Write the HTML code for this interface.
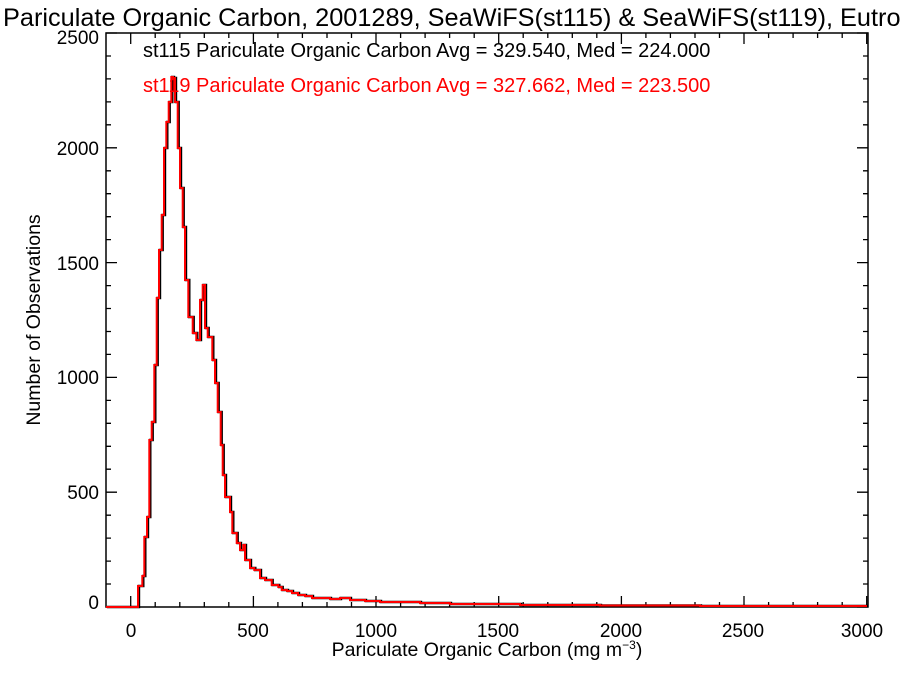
<!DOCTYPE html>
<html><head><style>body{margin:0;background:#fff}svg{display:block}text{font-family:"Liberation Sans",sans-serif}</style></head>
<body>
<svg width="900" height="675" viewBox="0 0 900 675" xmlns="http://www.w3.org/2000/svg">
<rect width="900" height="675" fill="#fff"/>
<text x="3" y="26" font-size="25.3" fill="#000">Pariculate Organic Carbon, 2001289, SeaWiFS(st115) &amp; SeaWiFS(st119), Eutrophic</text>
<g fill="none" stroke="#000" stroke-width="1.3">
<path d="M130.7 607v-11M253.4 607v-11M376 607v-11M498.7 607v-11M621.4 607v-11M744 607v-11M866.7 607v-11
M130.7 33v11M253.4 33v11M376 33v11M498.7 33v11M621.4 33v11M744 33v11M866.7 33v11
M155.2 607v-5M179.8 607v-5M204.3 607v-5M228.8 607v-5M277.9 607v-5M302.4 607v-5M327 607v-5M351.5 607v-5M400.6 607v-5M425.1 607v-5M449.6 607v-5M474.2 607v-5M523.2 607v-5M547.8 607v-5M572.3 607v-5M596.8 607v-5M645.9 607v-5M670.4 607v-5M695 607v-5M719.5 607v-5M768.6 607v-5M793.1 607v-5M817.6 607v-5M842.2 607v-5
M155.2 33v5M179.8 33v5M204.3 33v5M228.8 33v5M277.9 33v5M302.4 33v5M327 33v5M351.5 33v5M400.6 33v5M425.1 33v5M449.6 33v5M474.2 33v5M523.2 33v5M547.8 33v5M572.3 33v5M596.8 33v5M645.9 33v5M670.4 33v5M695 33v5M719.5 33v5M768.6 33v5M793.1 33v5M817.6 33v5M842.2 33v5
M106 607h11M106 492.2h11M106 377.4h11M106 262.6h11M106 147.8h11M106 33h11
M868 607h-11M868 492.2h-11M868 377.4h-11M868 262.6h-11M868 147.8h-11M868 33h-11
M106 584h5M106 561.1h5M106 538.1h5M106 515.2h5M106 469.2h5M106 446.3h5M106 423.3h5M106 400.4h5M106 354.4h5M106 331.5h5M106 308.5h5M106 285.6h5M106 239.6h5M106 216.7h5M106 193.7h5M106 170.8h5M106 124.8h5M106 101.9h5M106 78.9h5M106 56h5
M868 584h-5M868 561.1h-5M868 538.1h-5M868 515.2h-5M868 469.2h-5M868 446.3h-5M868 423.3h-5M868 400.4h-5M868 354.4h-5M868 331.5h-5M868 308.5h-5M868 285.6h-5M868 239.6h-5M868 216.7h-5M868 193.7h-5M868 170.8h-5M868 124.8h-5M868 101.9h-5M868 78.9h-5M868 56h-5"/>
</g>
<rect x="106" y="33" width="762" height="574" fill="none" stroke="#000" stroke-width="1.5"/>
<g font-size="19" fill="#000" text-anchor="end">
<text x="99" y="609">0</text><text x="99" y="499">500</text><text x="99" y="384">1000</text><text x="99" y="270">1500</text><text x="99" y="155">2000</text><text x="99" y="44">2500</text>
</g>
<g font-size="19" fill="#000" text-anchor="middle">
<text x="131" y="637">0</text><text x="253" y="637">500</text><text x="376" y="637">1000</text><text x="498" y="637">1500</text><text x="621" y="637">2000</text><text x="743" y="637">2500</text><text x="862" y="637">3000</text>
</g>
<text x="487" y="656" font-size="19.5" text-anchor="middle">Pariculate Organic Carbon (mg m<tspan font-size="12" dy="-7">−3</tspan><tspan dy="7">)</tspan></text>
<text transform="translate(40,320) rotate(-90)" font-size="19.5" text-anchor="middle">Number of Observations</text>
<path fill="none" stroke="#000" stroke-width="2.6" transform="translate(0.9,0)" d="M106 607H138V586H142.3V576H144.3V537H147V517H149.3V440H151.7V422H154.3V365H156.7V298H159V250H161.7V215H164V148H166.3V122H168.7V102H171.3V77H173V78H175V102H177.7V148H180V188H182.7V227H185V280H188.3V317H192.7V333H196.3V340H200V300H202.7V285H205V328H207.7V337H212.3V360H215V383H217.7V412H220.7V445H222.7V475H225V497H230V512H232.3V533H236.7V543H240V550H243.3V545H245V560H250V568H254.3V570H260V578H265V580H271.7V585H278.3V587H281.7V590H287V591H292V593H298V595H305V596H312V598H320V598H330V599H340V598H350V600H365V601H380V602H400V602H420V603H450V604H480V604H520V605H560V605H600V605.5H700V606H867"/>
<path fill="none" stroke="#f00" stroke-width="2" d="M106 607H138V586H142.3V576H144.3V537H147V517H149.3V440H151.7V422H154.3V365H156.7V298H159V250H161.7V215H164V148H166.3V122H168.7V102H171.3V77H173V78H175V102H177.7V148H180V188H182.7V227H185V280H188.3V317H192.7V333H196.3V340H200V300H202.7V285H205V328H207.7V337H212.3V360H215V383H217.7V412H220.7V445H222.7V475H225V497H230V512H232.3V533H236.7V543H240V550H243.3V545H245V560H250V568H254.3V570H260V578H265V580H271.7V585H278.3V587H281.7V590H287V591H292V593H298V595H305V596H312V598H320V598H330V599H340V598H350V600H365V601H380V602H400V602H420V603H450V604H480V604H520V605H560V605H600V605.5H700V606H867"/>
<text x="143" y="57" font-size="20" fill="#000">st115 Pariculate Organic Carbon Avg = 329.540, Med = 224.000</text>
<text x="143" y="92" font-size="20" fill="#f00">st119 Pariculate Organic Carbon Avg = 327.662, Med = 223.500</text>
</svg>
</body></html>
